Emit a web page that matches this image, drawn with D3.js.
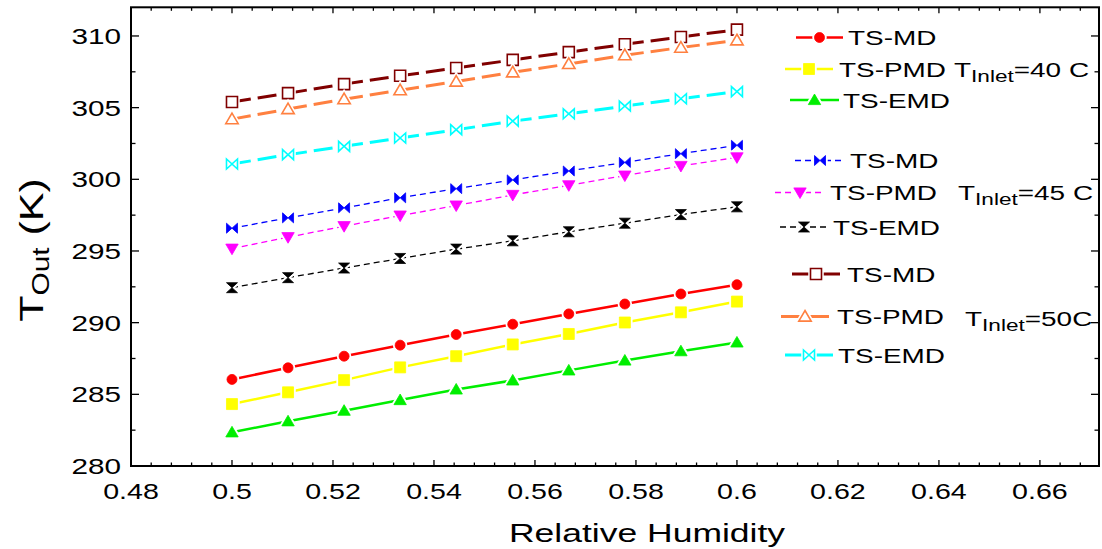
<!DOCTYPE html>
<html><head><meta charset="utf-8">
<script src="https://cdn.jsdelivr.net/npm/d3@7"></script>
<style>body{margin:0;background:#fff}svg{display:block}text{font-family:"Liberation Sans",Arial,sans-serif;fill:#000}</style>
</head><body><svg id="c" width="1102" height="549"></svg>
<script>
const humidity = [0.5, 0.5111, 0.5222, 0.5333, 0.5444, 0.5556, 0.5667, 0.5778, 0.5889, 0.6];
const tsmd40  = [286.04, 286.85, 287.66, 288.43, 289.17, 289.89, 290.61, 291.30, 292.00, 292.65];
const tspmd40 = [284.32, 285.14, 285.99, 286.88, 287.66, 288.48, 289.21, 290.01, 290.72, 291.47];
const tsemd40 = [282.35, 283.12, 283.86, 284.60, 285.34, 285.97, 286.67, 287.36, 288.01, 288.62];
const tsmd45  = [296.59, 297.31, 298.01, 298.71, 299.35, 299.96, 300.58, 301.18, 301.79, 302.37];
const tspmd45 = [295.16, 295.96, 296.73, 297.47, 298.17, 298.91, 299.58, 300.26, 300.93, 301.53];
const tsemd45 = [292.44, 293.14, 293.81, 294.48, 295.13, 295.71, 296.34, 296.94, 297.54, 298.08];
const tsmd50  = [305.39, 306.01, 306.64, 307.22, 307.77, 308.33, 308.87, 309.42, 309.93, 310.44];
const tspmd50 = [304.20, 304.90, 305.59, 306.22, 306.82, 307.47, 308.05, 308.66, 309.19, 309.70];
const tsemd50 = [301.07, 301.72, 302.30, 302.88, 303.46, 304.06, 304.57, 305.11, 305.62, 306.12];
const seriesNames = ["TS-MD", "TS-PMD", "TS-EMD"];
const groupLabels = ["40 C", "45 C", "50C"];
const xTicks = [0.48, 0.5, 0.52, 0.54, 0.56, 0.58, 0.6, 0.62, 0.64, 0.66];
const xTickLabels = ["0.48", "0.5", "0.52", "0.54", "0.56", "0.58", "0.6", "0.62", "0.64", "0.66"];
const yTicks = [280, 285, 290, 295, 300, 305, 310];
const yTickLabels = ["280", "285", "290", "295", "300", "305", "310"];

const svg = d3.select("#c");
const L = 131, R = 1099, T = 7.3, B = 466;
const x = d3.scaleLinear().domain([0.48, 0.6717]).range([L, R]);
const y = d3.scaleLinear().domain([280, 312]).range([B, T]);

const shapes = {
  circle: "M5,0A5,5 0 1,1 -5,0A5,5 0 1,1 5,0Z",
  square: "M-5.5,-5.5H5.5V5.5H-5.5Z",
  triUp: "M0,-6L6.2,4.6H-6.2Z",
  triDown: "M-6.2,-4.6H6.2L0,6Z",
  bowtie: "M-5.5,-5L0,0L-5.5,5Z M5.5,-5L0,0L5.5,5Z",
  hourglass: "M-5.5,-5H5.5L0,0Z M-5.5,5H5.5L0,0Z"
};

const series = [
  {v: tsmd40, color: "#ff0000", w: 2.5, dash: null, shape: "circle", open: false},
  {v: tspmd40, color: "#ffff00", w: 2.5, dash: null, shape: "square", open: false},
  {v: tsemd40, color: "#00ee00", w: 2.5, dash: null, shape: "triUp", open: false},
  {v: tsmd45, color: "#0000ff", w: 1.3, dash: "6,4", shape: "bowtie", open: false},
  {v: tspmd45, color: "#ff00ff", w: 1.3, dash: "6,4", shape: "triDown", open: false},
  {v: tsemd45, color: "#000000", w: 1.3, dash: "6,4", shape: "hourglass", open: false},
  {v: tsmd50, color: "#800000", w: 3, dash: "19,7", shape: "square", open: true},
  {v: tspmd50, color: "#ff8040", w: 3, dash: "19,7", shape: "triUp", open: true},
  {v: tsemd50, color: "#00ffff", w: 3, dash: "19,7", shape: "bowtie", open: true}
];

function marker(g, cx, cy, s) {
  g.append("path").attr("d", shapes[s.shape]).attr("transform", `translate(${cx},${cy})`)
    .attr("fill", "#fff").attr("stroke", "#fff").attr("stroke-width", 4.5);
  g.append("path").attr("d", shapes[s.shape]).attr("transform", `translate(${cx},${cy})`)
    .attr("fill", s.open ? "#fff" : s.color).attr("stroke", s.color)
    .attr("stroke-width", s.open ? 1.6 : 0.8);
}

const plot = svg.append("g");
series.forEach(s => {
  const pts = humidity.map((h, i) => [x(h), y(s.v[i])]);
  const g = plot.append("g");
  for (let i = 0; i < pts.length - 1; i++) {
    g.append("line").attr("x1", pts[i][0]).attr("y1", pts[i][1])
      .attr("x2", pts[i+1][0]).attr("y2", pts[i+1][1])
      .attr("stroke", s.color).attr("stroke-width", s.w)
      .attr("stroke-dasharray", s.dash);
  }
  pts.forEach(p => marker(g, p[0], p[1], s));
});

// axes
const ax = svg.append("g");
ax.append("rect").attr("x", L).attr("y", T).attr("width", R - L).attr("height", B - T)
  .attr("fill", "none").attr("stroke", "#000").attr("stroke-width", 2);
const xMinor = d3.range(0, 49).map(i => 0.48 + i * 0.004).filter(v => x(v) < R - 1);
xMinor.forEach((v, i) => {
  const major = i % 5 === 0;
  const len = major ? 6 : 3.5;
  ax.append("line").attr("x1", x(v)).attr("x2", x(v)).attr("y1", B).attr("y2", B - len).attr("stroke", "#000").attr("stroke-width", 1.3);
  ax.append("line").attr("x1", x(v)).attr("x2", x(v)).attr("y1", T).attr("y2", T + len).attr("stroke", "#000").attr("stroke-width", 1.3);
});
const yMinor = d3.range(0, 13).map(i => 280 + i * 2.5);
yMinor.forEach((v, i) => {
  const major = i % 2 === 0;
  const len = major ? 8 : 4.5;
  ax.append("line").attr("x1", L).attr("x2", L + len).attr("y1", y(v)).attr("y2", y(v)).attr("stroke", "#000").attr("stroke-width", 1.3);
  ax.append("line").attr("x1", R).attr("x2", R - len).attr("y1", y(v)).attr("y2", y(v)).attr("stroke", "#000").attr("stroke-width", 1.3);
});

function txt(g, px, py, size, sx, anchor, rot) {
  return g.append("text").attr("transform", `translate(${px},${py}) rotate(${rot||0}) scale(${sx},1)`)
    .attr("text-anchor", anchor).attr("font-size", size);
}
xTicks.forEach((v, i) => txt(ax, x(v), 499, 22, 1.3, "middle").text(xTickLabels[i]));
yTicks.forEach((v, i) => txt(ax, 121, y(v) + 8, 22, 1.35, "end").text(yTickLabels[i]));
txt(ax, 647, 542, 25, 1.42, "middle").text("Relative Humidity");
const yt = txt(ax, 43, 250, 33, 1.3, "middle", -90);
yt.append("tspan").text("T");
yt.append("tspan").attr("font-size", 23).attr("dy", 6).text("Out");
yt.append("tspan").attr("dy", -6).text(" (K)");

// legend
const leg = svg.append("g");
const legendPos = [
  [796, 843, 37.5, 848], [785, 833, 69, 839], [790, 839, 100, 843],
  [795, 845, 160.5, 850], [775, 825, 192.5, 830], [780, 828, 227, 833],
  [792, 840, 274, 847], [781, 829, 316.5, 837], [785, 833, 355, 838]
];
series.forEach((s, i) => {
  const [x1, x2, ly, tx] = legendPos[i];
  leg.append("line").attr("x1", x1).attr("x2", x2).attr("y1", ly).attr("y2", ly)
    .attr("stroke", s.color).attr("stroke-width", s.w).attr("stroke-dasharray", s.dash ? (i < 6 ? "6,4" : null) : null);
  marker(leg, (x1 + x2) / 2, ly, s);
  txt(leg, tx, ly + 7.5, 21, 1.33, "start").text(seriesNames[i % 3]);
});
const tPos = [[954, 69], [958, 192], [965, 318]];
groupLabels.forEach((lab, i) => {
  const t = txt(leg, tPos[i][0], tPos[i][1] + 7.5, 21, 1.33, "start");
  t.append("tspan").text("T");
  t.append("tspan").attr("font-size", 17).attr("dy", 5).text("Inlet");
  t.append("tspan").attr("dy", -5).text("=" + lab);
});
</script></body></html>
